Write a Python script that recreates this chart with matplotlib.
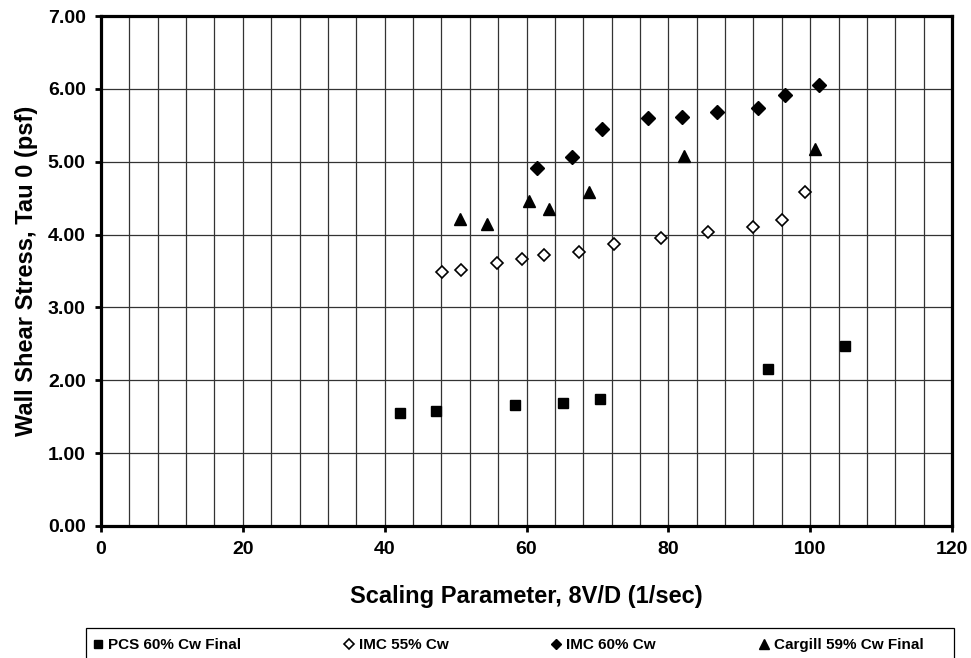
import matplotlib
matplotlib.use('Agg')
from matplotlib import pyplot as plt
from matplotlib.patches import Rectangle
from matplotlib.ticker import MultipleLocator

# PCS 60% Cw Final
pcs_x = [42.2, 47.2, 58.4, 65.1, 70.4, 94.1, 104.9]
pcs_y = [1.55, 1.58, 1.66, 1.69, 1.75, 2.16, 2.47]

# IMC 55% Cw
imc55_x = [48.1, 50.8, 55.8, 59.3, 62.4, 67.4, 72.4, 78.9, 85.6, 92.0, 96.0, 99.3]
imc55_y = [3.48, 3.52, 3.61, 3.67, 3.72, 3.76, 3.87, 3.95, 4.03, 4.11, 4.20, 4.58]

# IMC 60% Cw
imc60_x = [61.5, 66.4, 70.6, 77.1, 81.9, 86.8, 92.7, 96.5, 101.2]
imc60_y = [4.92, 5.06, 5.45, 5.60, 5.61, 5.68, 5.74, 5.91, 6.05]

# Cargill 59% Cw Final
cargill_x = [50.6, 54.4, 60.3, 63.2, 68.8, 82.2, 100.7]
cargill_y = [4.21, 4.14, 4.46, 4.35, 4.59, 5.08, 5.18]

x_ticks = [0, 20, 40, 60, 80, 100, 120]
y_ticks = [0, 1, 2, 3, 4, 5, 6, 7]

plt.rcParams['font.family'] = ['Liberation Sans', 'DejaVu Sans']
plt.rcParams['font.weight'] = 'bold'

fig = plt.figure(figsize=(9.71, 6.58), dpi=100)
ax = fig.add_axes([101 / 971, 1 - 526 / 658, 851 / 971, 510 / 658])

ax.plot(pcs_x, pcs_y, 's', color='black', markersize=7.5, label='PCS 60% Cw Final')
ax.plot(imc55_x, imc55_y, 'D', markerfacecolor='white', markeredgecolor='black',
        markeredgewidth=1.2, markersize=6.5, label='IMC 55% Cw')
ax.plot(imc60_x, imc60_y, 'D', color='black', markersize=7, label='IMC 60% Cw')
ax.plot(cargill_x, cargill_y, '^', color='black', markersize=9, label='Cargill 59% Cw Final')

ax.set_xlim(0, 120)
ax.set_ylim(0, 7)
ax.set_xticks(x_ticks)
ax.set_yticks(y_ticks)
ax.set_yticklabels(['%.2f' % v for v in y_ticks])
ax.xaxis.set_minor_locator(MultipleLocator(4))

ax.grid(True, which='major', axis='y', color='#333333', lw=0.9)
ax.grid(True, which='both', axis='x', color='#333333', lw=0.9)
ax.set_axisbelow(True)

for s in ax.spines.values():
    s.set_linewidth(2.3)
ax.tick_params(which='major', direction='out', length=4, width=2, labelsize=14, pad=7)
ax.tick_params(which='minor', length=0)
for lab in ax.get_xticklabels() + ax.get_yticklabels():
    lab.set_fontweight('bold')

ax.set_xlabel('Scaling Parameter, 8V/D (1/sec)', fontsize=17, fontweight='bold', labelpad=19)
ax.set_ylabel('Wall Shear Stress, Tau 0 (psf)', fontsize=17, fontweight='bold', labelpad=7)

# legend box, runs off the bottom edge like the original
fig.patches.append(Rectangle((86 / 971, -0.02), 868 / 971, 0.02 + 30 / 658,
                             transform=fig.transFigure, facecolor='white',
                             edgecolor='black', lw=0.9, zorder=0))
leg = fig.legend(loc='center left', bbox_to_anchor=(89 / 971, 1 - 645 / 658),
                 ncol=4, frameon=False, fontsize=11, columnspacing=6.75,
                 handlelength=0.6, handletextpad=0.35, markerscale=0.8,
                 borderaxespad=0, borderpad=0.3)
for t in leg.get_texts():
    t.set_fontweight('bold')

fig.savefig('out.png', dpi=100)
